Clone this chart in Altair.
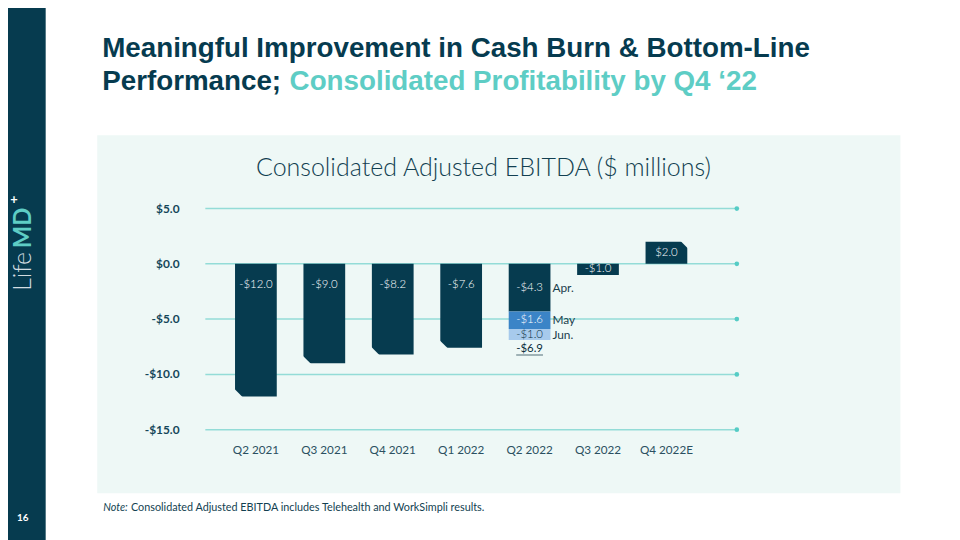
import altair as alt
import pandas as pd

# ---------------- data ----------------
quarters = ["Q2 2021", "Q3 2021", "Q4 2021", "Q1 2022", "Q2 2022", "Q3 2022", "Q4 2022E"]
ebitda = [-12.0, -9.0, -8.2, -7.6, -6.9, -1.0, 2.0]
q2_months = ["Apr.", "May", "Jun."]
q2_monthly = [-4.3, -1.6, -1.0]
y_ticks = [5.0, 0.0, -5.0, -10.0, -15.0]

# ---------------- style ----------------
DARK = "#063b4f"
TEAL = "#5ecdc5"
PANEL = "#eef8f6"
GRID = "#93dcd7"
DOT = "#55ccc5"
MAY = "#3b84c7"
JUN = "#a7caec"
TXT = "#123f51"

# layout: plot area origin in page pixels
OX, OY = 223.5, 208.0
def px(x):
    return x - OX
def py(y):
    return y - OY

def money(v):
    return ("-$" if v < 0 else "$") + f"{abs(v):.1f}"

rows = []
for q, v in zip(quarters, ebitda):
    if q == "Q2 2022":
        start = 0.0
        for m, mv in zip(q2_months, q2_monthly):
            end = round(start + mv, 2)
            rows.append(dict(quarter=q, seg=m, start=start, end=end, label=money(mv),
                             kind="month", mid=(start + end) / 2))
            start = end
    else:
        rows.append(dict(quarter=q, seg="total", start=0.0, end=v, label=money(v),
                         kind="tall" if v < -5 else "short", mid=v / 2))
bars = pd.DataFrame(rows)
totals = pd.DataFrame({"quarter": ["Q2 2022"], "value": [ebitda[4]], "label": [money(ebitda[4])]})
grid = pd.DataFrame({"v": y_ticks, "label": [money(v) for v in y_ticks]})
xlab = pd.DataFrame({"quarter": quarters, "base": [min(y_ticks)] * len(quarters)})
one = pd.DataFrame({"a": [0]})

yscale = alt.Scale(domain=[-15, 5], nice=False, zero=False)
xscale = alt.Scale(domain=quarters, paddingInner=0.39, paddingOuter=0.195)
Xn = alt.X("quarter:N", sort=quarters, scale=xscale, axis=None)

layers = []

def rect(x0, x1, y0, y1, color):
    return alt.Chart(one).mark_rect(color=color).encode(
        x=alt.value(px(x0)), x2=alt.value(px(x1)), y=alt.value(py(y0)), y2=alt.value(py(y1)))

def text(s, x, y, **kw):
    return alt.Chart(one).mark_text(**kw).encode(
        x=alt.value(px(x)), y=alt.value(py(y)), text=alt.value(s))

# panel and sidebar
layers.append(rect(98, 908, 134, 495, PANEL))
layers.append(rect(-20, 46, -20, 560, DARK))

# titles
layers.append(text("Meaningful Improvement in Cash Burn & Bottom-Line", 103, 55,
                   font="Liberation Sans", fontSize=28, fontWeight="bold", color=DARK,
                   align="left", baseline="alphabetic"))
layers.append(text("Performance;", 103, 88,
                   font="Liberation Sans", fontSize=28, fontWeight="bold", color=DARK,
                   align="left", baseline="alphabetic"))
layers.append(text("Consolidated Profitability by Q4 \u201822", 292, 88,
                   font="Liberation Sans", fontSize=28, fontWeight="bold", color=TEAL,
                   align="left", baseline="alphabetic"))
layers.append(text("Consolidated Adjusted EBITDA ($ millions)", 487.5, 175,
                   font="Lato", fontSize=25.2, fontWeight=300, color=TXT,
                   align="center", baseline="alphabetic"))

# footnote
layers.append(text("Note:", 104, 513, font="Lato", fontSize=10.9, fontStyle="italic",
                   color=TXT, align="left", baseline="alphabetic"))
layers.append(text("Consolidated Adjusted EBITDA includes Telehealth and WorkSimpli results.", 132, 513,
                   font="Lato", fontSize=10.9, color=TXT, align="left", baseline="alphabetic"))

# sidebar logo + page number
layers.append(text("Life", 31, 291, font="Lato", fontSize=25, fontWeight=300, color="#d3dde1",
                   angle=270, align="left", baseline="alphabetic"))
layers.append(text("MD", 31, 248, font="Lato", fontSize=24, fontWeight="bold", color=TEAL,
                   angle=270, align="left", baseline="alphabetic"))
layers.append(text("+", 14, 199, font="Lato", fontSize=13, fontWeight="bold", color="#ffffff",
                   align="center", baseline="middle"))
layers.append(text("16", 23, 520, font="Lato", fontSize=10, fontWeight="bold", color="#ffffff",
                   align="center", baseline="middle"))

# gridlines and end dots
layers.append(alt.Chart(grid).mark_rule(color=GRID, strokeWidth=1.5).encode(
    y=alt.Y("v:Q", scale=yscale, axis=None), x=alt.value(px(207)), x2=alt.value(px(743))))
layers.append(alt.Chart(grid).mark_circle(color=DOT, size=22, opacity=1).encode(
    y=alt.Y("v:Q", scale=yscale, axis=None), x=alt.value(px(743))))

# y tick labels
layers.append(alt.Chart(grid).mark_text(font="Lato", fontSize=12, fontWeight="bold", color="#15475a",
                                        align="right", baseline="middle").encode(
    y=alt.Y("v:Q", scale=yscale, axis=None), x=alt.value(px(181)), text="label:N"))

# x labels
layers.append(alt.Chart(xlab).mark_text(font="Lato", fontSize=11.8, color="#2b5061",
                                        baseline="middle", dy=21).encode(
    x=Xn, y=alt.Y("base:Q", scale=yscale, axis=None), text="quarter:N"))

# bars
layers.append(alt.Chart(bars).mark_bar().encode(
    x=Xn,
    y=alt.Y("start:Q", scale=yscale, axis=None),
    y2="end:Q",
    color=alt.Color("seg:N", scale=alt.Scale(domain=["total"] + q2_months, range=[DARK, DARK, MAY, JUN]),
                    legend=None)))

# chamfered corners
layers.append(alt.Chart(bars).transform_filter("datum.kind == 'tall'").mark_point(
    shape="M -22.5 -8.5 L -22.5 1 L -13 1 Z", size=4, filled=True, opacity=1, color=PANEL,
    strokeWidth=0).encode(x=Xn, y=alt.Y("end:Q", scale=yscale, axis=None)))
layers.append(alt.Chart(bars).transform_filter("datum.end > 0").mark_point(
    shape="M 14 -1 L 22.5 -1 L 22.5 7.5 Z", size=4, filled=True, opacity=1, color=PANEL,
    strokeWidth=0).encode(x=Xn, y=alt.Y("end:Q", scale=yscale, axis=None)))

# value labels
layers.append(alt.Chart(bars).transform_filter("datum.kind == 'tall'").mark_text(
    font="Lato", fontSize=11.5, fontWeight=300, color="#ffffff", dy=21, baseline="middle").encode(
    x=Xn, y=alt.Y("start:Q", scale=yscale, axis=None), text="label:N"))
layers.append(alt.Chart(bars).transform_filter("datum.kind != 'tall'").mark_text(
    font="Lato", fontSize=11.5, fontWeight=300, baseline="middle").encode(
    x=Xn, y=alt.Y("mid:Q", scale=yscale, axis=None), text="label:N",
    color=alt.condition("datum.seg == 'Jun.'", alt.value("#0b2f3d"), alt.value("#ffffff"))))
layers.append(alt.Chart(bars).transform_filter("datum.kind == 'month'").mark_text(
    font="Lato", fontSize=12, color="#1a3d4c", align="left", dx=23, baseline="middle").encode(
    x=Xn, y=alt.Y("mid:Q", scale=yscale, axis=None), text="seg:N"))

# Q2 2022 total with underline
layers.append(alt.Chart(totals).mark_text(
    font="Lato", fontSize=11.5, color="#0b2f3d", dy=9, baseline="middle").encode(
    x=Xn, y=alt.Y("value:Q", scale=yscale, axis=None), text="label:N"))
layers.append(alt.Chart(totals).mark_tick(size=27, thickness=1, color="#0b2f3d").encode(
    x=Xn, y=alt.Y("value:Q", scale=yscale, axis=None), yOffset=alt.value(15)))

chart = alt.layer(*layers).properties(
    width=483, height=223,
    padding={"left": 215.5, "top": 200, "right": 253.5, "bottom": 109},
    autosize=alt.AutoSizeParams(type="none"),
).configure_view(strokeWidth=0)

chart.save("out.html", embed_options={"renderer": "svg", "actions": False})
